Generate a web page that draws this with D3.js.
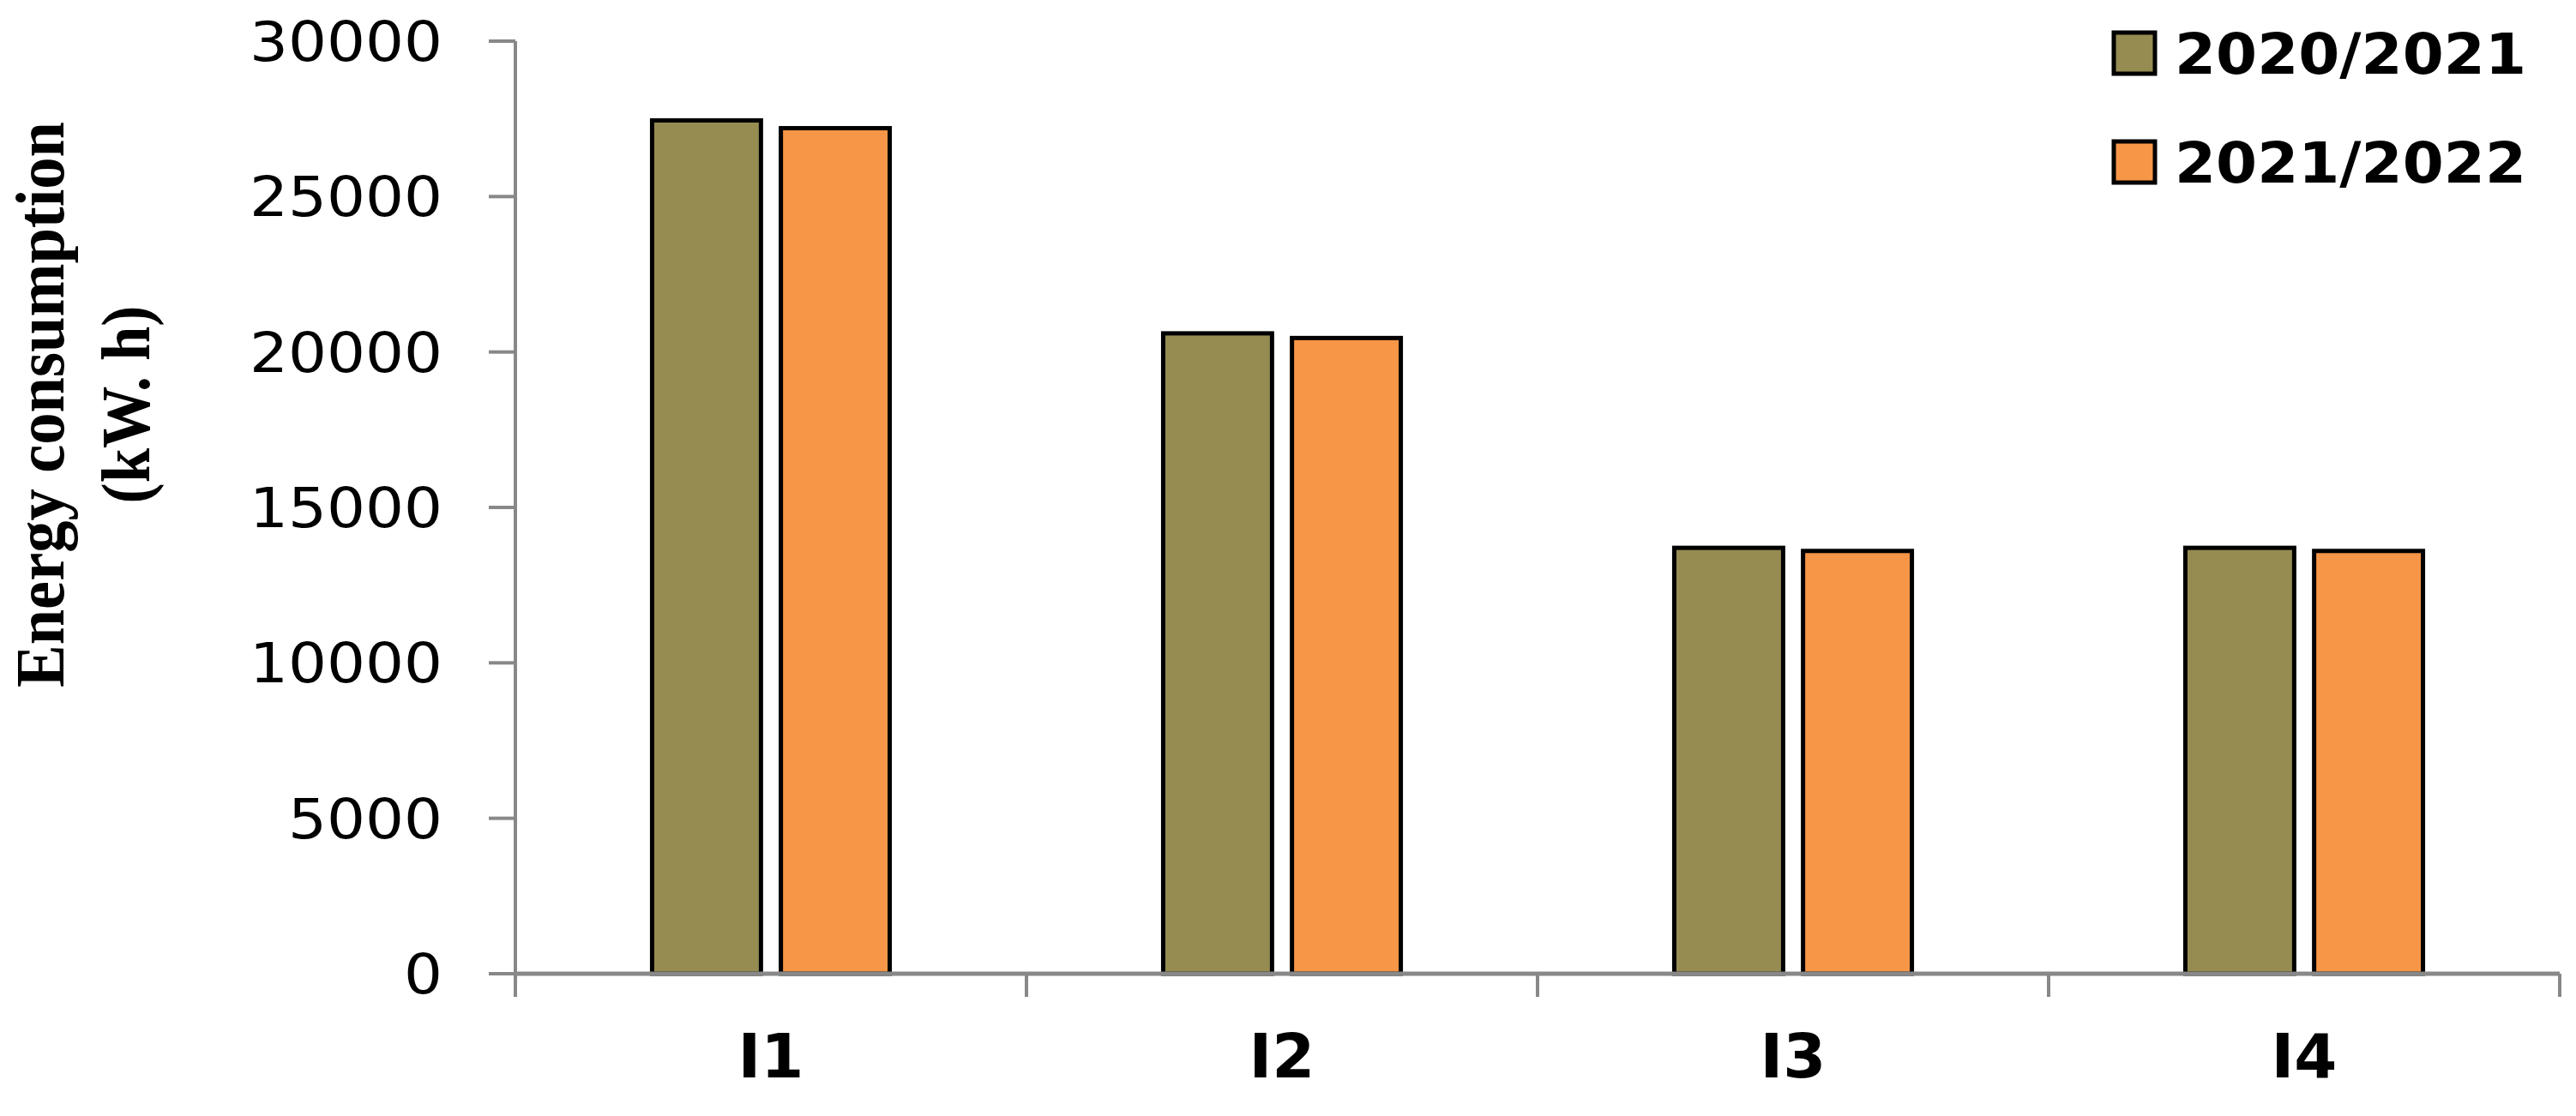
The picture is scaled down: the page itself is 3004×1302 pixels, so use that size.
<!DOCTYPE html>
<html><head><meta charset="utf-8">
<script src="https://cdn.jsdelivr.net/npm/d3@7"></script>
<style>body{margin:0;background:#fff}</style></head>
<body><svg id="c" width="3004" height="1302"></svg>
<script>
const categories = ["I1","I2","I3","I4"];
const seriesNames = ["2020/2021","2021/2022"];
const values2020 = [27450, 20600, 13700, 13700];
const values2021 = [27200, 20450, 13600, 13600];
const yTicks = [0,5000,10000,15000,20000,25000,30000];
const colors = ["#968C52","#F79646"];

const svg = d3.select("#c");
const L = 601, R = 2985, T = 48, B = 1136;
const x = d3.scaleBand().domain(categories).range([L, R]);
const y = d3.scaleLinear().domain([0, 30000]).range([B, T]);
const series = [values2020, values2021];
const bw = x.bandwidth() * 0.213, gap = x.bandwidth() * 0.039;

svg.append("line").attr("x1",L).attr("x2",L).attr("y1",T).attr("y2",B).attr("stroke","#888").attr("stroke-width",4);
yTicks.forEach(t=>{
  svg.append("line").attr("x1",L-31).attr("x2",L).attr("y1",y(t)).attr("y2",y(t)).attr("stroke","#888").attr("stroke-width",4);
  const s = String(t);
  svg.append("text").attr("x",516).attr("y",y(t)).attr("dy","0.36em").attr("text-anchor","end")
    .attr("font-family","DejaVu Sans").attr("font-size",64)
    .attr("textLength", s.length*45).attr("lengthAdjust","spacingAndGlyphs").text(s);
});

categories.forEach((c,i)=>{
  const cx = x(c) + x.bandwidth()/2;
  series.forEach((s,k)=>{
    const x0 = k===0 ? cx - gap/2 - bw : cx + gap/2;
    svg.append("rect").attr("x",x0).attr("y",y(s[i])).attr("width",bw).attr("height",B-y(s[i]))
      .attr("fill",colors[k]).attr("stroke","#000").attr("stroke-width",5);
  });
});

svg.append("line").attr("x1",L).attr("x2",R).attr("y1",B).attr("y2",B).attr("stroke","#888").attr("stroke-width",5);
categories.concat(["end"]).forEach((c,i)=>{
  const xx = L + i * x.bandwidth();
  svg.append("line").attr("x1",xx).attr("x2",xx).attr("y1",B).attr("y2",B+27).attr("stroke","#888").attr("stroke-width",4);
});
categories.forEach(c=>{
  svg.append("text").attr("x",x(c)+x.bandwidth()/2).attr("y",1257).attr("text-anchor","middle")
    .attr("font-family","DejaVu Sans").attr("font-weight","bold").attr("font-size",72).text(c);
});

const yt = svg.append("text").attr("transform","translate(0,472) rotate(-90)")
  .attr("text-anchor","middle").attr("font-family","Liberation Serif").attr("font-weight","bold").attr("font-size",80);
yt.append("tspan").attr("x",0).attr("y",74).attr("textLength",660).attr("lengthAdjust","spacingAndGlyphs").text("Energy consumption");
yt.append("tspan").attr("x",0).attr("y",174).attr("textLength",231).attr("lengthAdjust","spacingAndGlyphs").text("(kW. h)");

seriesNames.forEach((n,k)=>{
  const yy = 38 + k*127;
  svg.append("rect").attr("x",2465).attr("y",yy).attr("width",48).attr("height",48)
    .attr("fill",colors[k]).attr("stroke","#000").attr("stroke-width",5);
  svg.append("text").attr("x",2536).attr("y",yy+24).attr("dy","0.36em")
    .attr("font-family","DejaVu Sans").attr("font-weight","bold").attr("font-size",66)
    .attr("textLength",410).attr("lengthAdjust","spacingAndGlyphs").text(n);
});
</script></body></html>
